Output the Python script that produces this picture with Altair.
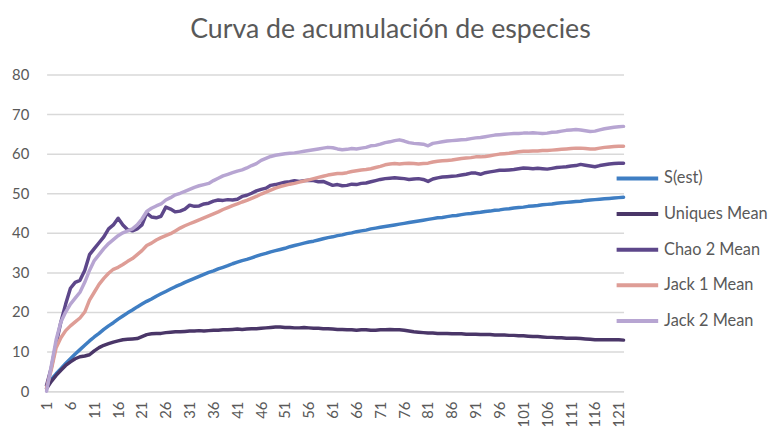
import altair as alt
import pandas as pd

samples = list(range(1, 123))

s_est = [1.5, 3.0, 4.4, 5.7, 7.0, 8.2, 9.4, 10.5, 11.6, 12.7,
         13.7, 14.6, 15.6, 16.5, 17.3, 18.2, 19.0, 19.8, 20.5, 21.3,
         22.0, 22.7, 23.3, 24.0, 24.6, 25.2, 25.8, 26.4, 26.9, 27.5,
         28.0, 28.5, 29.0, 29.5, 30.0, 30.4, 30.9, 31.3, 31.7, 32.2,
         32.6, 33.0, 33.3, 33.7, 34.1, 34.5, 34.8, 35.2, 35.5, 35.8,
         36.1, 36.5, 36.8, 37.1, 37.4, 37.7, 37.9, 38.2, 38.5, 38.8,
         39.0, 39.3, 39.5, 39.8, 40.0, 40.3, 40.5, 40.7, 41.0, 41.2,
         41.4, 41.6, 41.8, 42.0, 42.2, 42.4, 42.6, 42.8, 43.0, 43.2,
         43.4, 43.6, 43.8, 43.9, 44.1, 44.3, 44.4, 44.6, 44.8, 44.9,
         45.1, 45.2, 45.4, 45.5, 45.7, 45.8, 46.0, 46.1, 46.3, 46.4,
         46.5, 46.7, 46.8, 46.9, 47.1, 47.2, 47.3, 47.5, 47.6, 47.7,
         47.8, 47.9, 48.0, 48.2, 48.3, 48.4, 48.5, 48.6, 48.7, 48.8,
         48.9, 49.0]

uniques = [0.7, 2.5, 4.0, 5.3, 6.5, 7.4, 8.2, 8.7, 8.9, 9.2,
           10.2, 11.0, 11.6, 12.0, 12.4, 12.7, 13.0, 13.1, 13.2, 13.3,
           13.8, 14.3, 14.5, 14.6, 14.6, 14.8, 14.9, 15.0, 15.0, 15.1,
           15.2, 15.2, 15.3, 15.2, 15.3, 15.4, 15.4, 15.5, 15.5, 15.6,
           15.7, 15.6, 15.7, 15.8, 15.8, 15.9, 16.0, 16.1, 16.2, 16.2,
           16.1, 16.1, 16.0, 16.0, 16.1, 16.0, 15.9, 15.9, 15.8, 15.8,
           15.7, 15.6, 15.6, 15.5, 15.5, 15.4, 15.5, 15.5, 15.4, 15.4,
           15.5, 15.5, 15.6, 15.5, 15.5, 15.4, 15.2, 15.0, 14.9, 14.8,
           14.7, 14.7, 14.6, 14.6, 14.6, 14.5, 14.5, 14.5, 14.4, 14.4,
           14.4, 14.3, 14.3, 14.3, 14.2, 14.2, 14.2, 14.1, 14.1, 14.0,
           14.0, 13.9, 13.8, 13.8, 13.7, 13.6, 13.6, 13.5, 13.5, 13.4,
           13.4, 13.4, 13.3, 13.2, 13.1, 13.0, 13.0, 13.0, 13.0, 13.0,
           13.0, 12.9]

chao2 = [1.5, 6.0, 12.0, 17.5, 22.0, 26.0, 27.5, 28.0, 30.5, 34.5,
         36.0, 37.5, 39.0, 41.0, 42.0, 43.7, 42.0, 40.8, 40.5, 41.0,
         42.0, 45.0, 44.0, 43.8, 44.2, 46.5, 46.0, 45.3, 45.5, 46.0,
         47.0, 46.7, 46.8, 47.3, 47.5, 48.0, 48.3, 48.2, 48.4, 48.3,
         48.5, 49.2, 49.5, 50.0, 50.6, 51.0, 51.3, 52.0, 52.2, 52.5,
         52.8, 52.9, 53.2, 53.0, 53.2, 53.3, 53.2, 52.9, 53.0, 52.5,
         52.0, 52.2, 51.9, 52.0, 52.3, 52.2, 52.5, 52.6, 52.9, 53.2,
         53.5, 53.7, 53.8, 53.9, 53.8, 53.7, 53.5, 53.6, 53.7, 53.5,
         53.0, 53.6, 53.9, 54.1, 54.2, 54.3, 54.4, 54.6, 54.8, 55.1,
         55.1, 54.8, 55.2, 55.4, 55.6, 55.8, 55.8, 55.9, 56.0, 56.2,
         56.4, 56.3, 56.2, 56.3, 56.2, 56.1, 56.3, 56.5, 56.6, 56.7,
         56.9, 57.0, 57.3, 57.1, 56.9, 56.7, 57.0, 57.2, 57.4, 57.5,
         57.6, 57.6]

jack1 = [0.8, 5.5, 11.0, 13.5, 15.3, 16.5, 17.5, 18.5, 20.0, 23.0,
         25.0, 27.0, 28.5, 29.8, 30.8, 31.3, 32.0, 32.8, 33.5, 34.5,
         35.5, 36.8, 37.4, 38.2, 38.8, 39.3, 39.8, 40.5, 41.2, 41.8,
         42.3, 42.8, 43.3, 43.8, 44.3, 44.8, 45.3, 45.9, 46.4, 46.9,
         47.3, 47.8, 48.2, 48.7, 49.2, 49.8, 50.3, 50.8, 51.3, 51.7,
         52.0, 52.3, 52.5, 52.8, 53.1, 53.4, 53.7, 54.0, 54.3, 54.6,
         54.8, 55.0, 55.0, 55.2, 55.5, 55.7, 55.9, 56.0, 56.2, 56.5,
         56.8, 57.2, 57.4, 57.5, 57.4, 57.5, 57.6, 57.5, 57.4, 57.5,
         57.6, 57.9, 58.1, 58.2, 58.3, 58.4, 58.6, 58.8, 58.9, 59.0,
         59.2, 59.2, 59.3, 59.5, 59.7, 59.9, 60.0, 60.1, 60.3, 60.5,
         60.6, 60.6, 60.7, 60.7, 60.8, 60.8, 60.9, 61.0, 61.1, 61.2,
         61.3, 61.4, 61.4, 61.3, 61.2, 61.2, 61.4, 61.6, 61.7, 61.8,
         61.9, 61.9]

jack2 = [0.0, 6.5, 13.0, 17.5, 20.0, 22.0, 23.5, 25.0, 27.5, 30.5,
         33.0, 34.5, 36.0, 37.3, 38.3, 39.3, 40.0, 40.5, 41.0, 42.0,
         43.5, 45.4, 46.2, 46.8, 47.3, 48.3, 48.9, 49.6, 50.0, 50.5,
         51.0, 51.5, 51.9, 52.2, 52.5, 53.2, 53.8, 54.4, 54.8, 55.2,
         55.6, 55.9, 56.4, 57.0, 57.5, 58.3, 58.8, 59.3, 59.6, 59.8,
         60.0, 60.1, 60.2, 60.4, 60.6, 60.8, 61.0, 61.2, 61.4, 61.6,
         61.5, 61.2, 61.0, 61.1, 61.3, 61.2, 61.4, 61.6, 62.0, 62.1,
         62.4, 62.8, 63.0, 63.3, 63.5, 63.2, 62.8, 62.6, 62.5, 62.4,
         62.0, 62.6, 62.8, 63.0, 63.2, 63.3, 63.4, 63.5, 63.6, 63.8,
         64.0, 64.1, 64.3, 64.5, 64.7, 64.8, 64.9, 65.0, 65.1, 65.1,
         65.2, 65.2, 65.3, 65.2, 65.1, 65.2, 65.4, 65.5, 65.7, 65.9,
         66.0, 66.1, 66.0, 65.8, 65.6, 65.7, 66.0, 66.3, 66.5, 66.7,
         66.8, 66.9]

series_names = ["S(est)", "Uniques Mean", "Chao 2 Mean", "Jack 1 Mean", "Jack 2 Mean"]
series_colors = ["#3F7EC3", "#4A3668", "#5D478A", "#DE9D96", "#B7A5D2"]
x_tick_values = list(range(1, 122, 5))
y_tick_values = list(range(0, 81, 10))

rows = []
for k, (name, vals) in enumerate(zip(series_names, [s_est, uniques, chao2, jack1, jack2])):
    for x, v in zip(samples, vals):
        rows.append({"Muestra": x, "Valor": v, "Serie": name, "orden": k})
df = pd.DataFrame(rows)

FONT = "Lato"
GREY = "#595959"

chart = alt.Chart(df).mark_line(strokeWidth=3.5, strokeJoin="round", strokeCap="round").encode(
    x=alt.X("Muestra:Q",
            scale=alt.Scale(domain=[1, 122], nice=False, zero=False),
            axis=alt.Axis(values=x_tick_values, labelAngle=-90, grid=False, ticks=False,
                          domain=True, domainColor="#D9D9D9", domainWidth=1.5,
                          labelColor=GREY, labelFont=FONT, labelFontSize=15,
                          labelPadding=10, title=None, labelOverlap=False)),
    y=alt.Y("Valor:Q",
            scale=alt.Scale(domain=[0, 80], nice=False),
            axis=alt.Axis(values=y_tick_values, grid=True, gridColor="#D9D9D9", gridWidth=1.5,
                          domain=False, ticks=False, labelColor=GREY, labelFont=FONT,
                          labelFontSize=15, labelPadding=18, title=None)),
    color=alt.Color("Serie:N",
                    scale=alt.Scale(domain=series_names, range=series_colors),
                    legend=alt.Legend(orient="none", legendX=574, legendY=82, title=None,
                                      symbolType="stroke", symbolSize=1764, symbolStrokeWidth=4,
                                      labelFont=FONT, labelFontSize=16.5, labelColor=GREY,
                                      rowPadding=4, labelOffset=4, labelLimit=200)),
    order=alt.Order("orden:Q"),
).properties(
    width=583,
    height=320,
    title=alt.TitleParams("Curva de acumulación de especies", font=FONT, fontSize=27,
                          fontWeight="normal", color=GREY, anchor="middle", dx=56, offset=24),
    padding={"left": 39, "top": 65, "right": 149, "bottom": 38},
    autosize="none",
).configure_view(stroke=None)

chart.save("out.html", embed_options={"renderer": "svg", "actions": False})
